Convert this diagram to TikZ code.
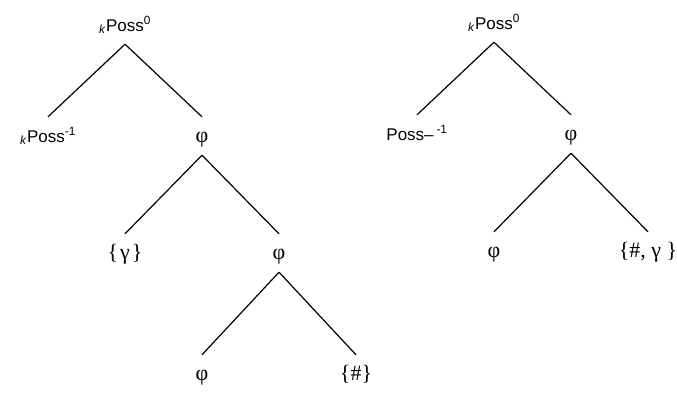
\documentclass[tikz,border=0pt]{standalone}
\usepackage{fontspec}
\setmainfont{Liberation Serif}
\setsansfont{Liberation Sans}

% head labels: subscript k, Poss, superscript index
\newcommand{\kposs}[1]{\textsubscript{\textit{k}}Poss\textsuperscript{#1}}

\tikzset{
	possnode/.style={font=\sffamily\fontsize{17}{20}\selectfont},
}

\begin{document}
\begin{tikzpicture}[every node/.style={inner sep=0pt,inner ysep=13pt,
	text height=12pt,text depth=0pt,font=\fontsize{22}{26}\selectfont},
	edge from parent/.style={draw,line width=1.2pt},
	parent anchor=south,child anchor=north,
	sibling distance=154pt,
	level 1/.style={level distance=111pt},
	level 2/.style={level distance=117pt},
	level 3/.style={level distance=121pt}]
\useasboundingbox (0,0) rectangle (677pt,-392pt);

% left tree
\node[possnode] (lroot) at (125pt,-25pt) {\kposs{0}}
child {node[possnode] (lposs) {\kposs{-1}}}
child {node (lphi) {φ}
	child {node (lgam) {\{\hspace{2pt}γ\hspace{2pt}\}}}
	child {node (lphib) {φ}
		child {node (lphic) {φ}}
		child {node (lhash) {\{\#\}}}
		}
	};

% right tree
\node[possnode] (rroot) at (494pt,-23pt) {\kposs{0}}
child {node[possnode] (rposs) {Poss–\,\textsuperscript{-1}}}
child {node (rphi) {φ}
	child {node (rphib) {φ}}
	child {node (rset) {\{\#, γ \}}}
	};
\end{tikzpicture}
\end{document}
